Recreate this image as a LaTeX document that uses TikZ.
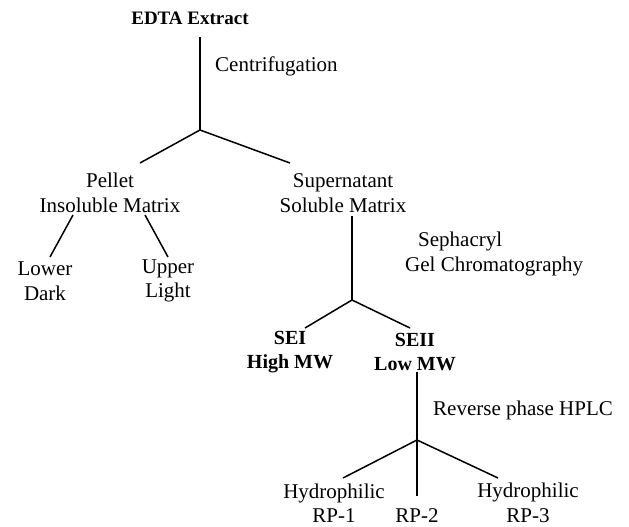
\documentclass[tikz,border=0pt]{standalone}
\usepackage{fontspec}
\setmainfont{Liberation Serif}
\begin{document}
\begin{tikzpicture}[x=1pt,y=-1pt,
  lbl/.style={inner sep=0pt, align=center, font=\fontsize{21}{24.5}\selectfont},
  blbl/.style={lbl, font=\fontsize{20}{24}\selectfont\bfseries},
  conn/.style={line width=1.5pt}]
\useasboundingbox (0,0) rectangle (629,527);
% text nodes
\node[lbl, font=\fontsize{19}{23}\selectfont\bfseries] (edta) at (190,18) {EDTA Extract};
\node[lbl, anchor=west] (centr) at (215,66) {Centrifugation};
\node[lbl] (pellet) at (110,193) {Pellet\\Insoluble Matrix};
\node[lbl] (super) at (343,193) {Supernatant\\Soluble Matrix};
\node[lbl] (lower) at (45,281) {Lower\\Dark};
\node[lbl] (upper) at (168,281) {Upper\\Light};
\node[lbl, align=left, anchor=west] (seph) at (405,254) {\hspace*{13pt}Sephacryl\\Gel Chromatography};
\node[blbl] (sei) at (290,352) {SEI\\High MW};
\node[blbl] (seii) at (415,352) {SEII\\Low MW};
\node[lbl, anchor=west] (rp) at (433,410) {Reverse phase HPLC};
\node[lbl] (rp1) at (334,503) {Hydrophilic\\RP-1};
\node[lbl] (rp2) at (417,516) {RP-2};
\node[lbl] (rp3) at (528,503) {Hydrophilic\\RP-3};
% junction and end coordinates
\coordinate (t1) at (200,37);
\coordinate (j1) at (200,130);
\coordinate (a1) at (140,163);
\coordinate (b1) at (290,163);
\coordinate (p1) at (73,215);
\coordinate (p1e) at (50,257);
\coordinate (p2) at (145,215);
\coordinate (p2e) at (168,257);
\coordinate (s1) at (352,216);
\coordinate (j2) at (352,300);
\coordinate (c1) at (305,328);
\coordinate (c2) at (410,328);
\coordinate (s2) at (417,372);
\coordinate (j3) at (417,440);
\coordinate (d1) at (343,478);
\coordinate (d2) at (498,478);
\coordinate (d3) at (417,496);
% connectors
\draw[conn] (t1) -- (j1);
\draw[conn] (a1) -- (j1) -- (b1);
\draw[conn] (p1) -- (p1e);
\draw[conn] (p2) -- (p2e);
\draw[conn] (s1) -- (j2);
\draw[conn] (c1) -- (j2) -- (c2);
\draw[conn] (s2) -- (j3);
\draw[conn] (d1) -- (j3) -- (d2);
\draw[conn] (j3) -- (d3);
\end{tikzpicture}
\end{document}
